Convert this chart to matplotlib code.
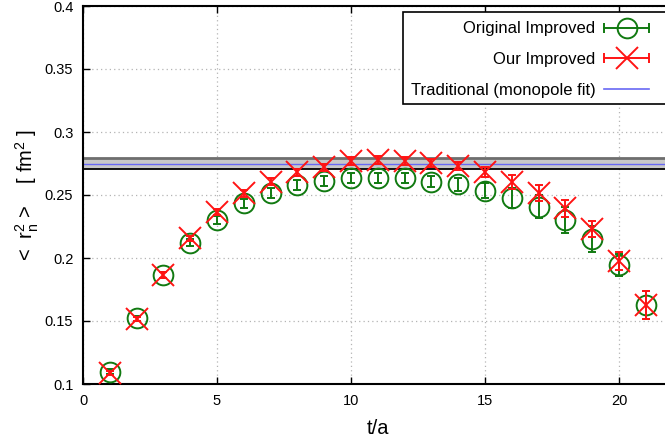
import matplotlib
matplotlib.use("Agg")
import matplotlib.pyplot as plt
from matplotlib.lines import Line2D
from matplotlib.patches import Rectangle
from matplotlib.legend_handler import HandlerBase

plt.rcParams['font.family'] = ['Liberation Sans', 'DejaVu Sans']
plt.rcParams['mathtext.fontset'] = 'custom'
plt.rcParams['mathtext.rm'] = 'Liberation Sans'
plt.rcParams['mathtext.it'] = 'Liberation Sans'
plt.rcParams['mathtext.default'] = 'regular'

# ---- data ----
t = [1, 2, 3, 4, 5, 6, 7, 8, 9, 10, 11, 12, 13, 14, 15, 16, 17, 18, 19, 20, 21]
orig_val = [0.1097, 0.1521, 0.1865, 0.2122, 0.2302, 0.2434, 0.2518, 0.2579, 0.2613, 0.2632,
            0.2637, 0.2632, 0.2606, 0.2585, 0.2534, 0.2474, 0.2407, 0.2302, 0.2151, 0.1944, 0.1627]
orig_err = [0.002, 0.002, 0.002, 0.003, 0.003, 0.0035, 0.004, 0.004, 0.004, 0.004,
            0.004, 0.004, 0.0045, 0.005, 0.006, 0.008, 0.009, 0.010, 0.010, 0.009, 0.0115]
ours_val = [0.1090, 0.1518, 0.1865, 0.2158, 0.2367, 0.2513, 0.2606, 0.2680, 0.2720, 0.2768,
            0.2778, 0.2770, 0.2756, 0.2730, 0.2685, 0.2606, 0.2518, 0.2394, 0.2228, 0.1978, 0.1627]
ours_err = [0.0015, 0.0015, 0.002, 0.002, 0.0025, 0.0025, 0.003, 0.003, 0.003, 0.003,
            0.003, 0.003, 0.003, 0.0035, 0.004, 0.0055, 0.0065, 0.0065, 0.0065, 0.007, 0.011]
trad_val = 0.2750
trad_err = 0.0043

xticks = [0, 5, 10, 15, 20]
yticks = [0.1, 0.15, 0.2, 0.25, 0.3, 0.35, 0.4]
yticklabels = ['0.1', '0.15', '0.2', '0.25', '0.3', '0.35', '0.4']
labels = ['Original Improved', 'Our Improved', 'Traditional (monopole fit)']

GREEN = '#117a11'
RED = '#ff1414'
BLUE = '#6868f4'

W, H = 665, 441
fig = plt.figure(figsize=(W / 100, H / 100), dpi=100)
ax_left, ax_right, ax_top, ax_bot = 83, 672.6, 6, 384
ax = fig.add_axes([ax_left / W, (H - ax_bot) / H, (ax_right - ax_left) / W, (ax_bot - ax_top) / H])
ax.set_xlim(0, 22)
ax.set_ylim(0.1, 0.4)

# band
ax.axhspan(trad_val - trad_err, trad_val + trad_err, color='#c8c8c8', zorder=1, lw=0)
ax.axhline(trad_val + trad_err, color='#6e6e6e', lw=2.0, zorder=2)
ax.axhline(trad_val - trad_err, color='black', lw=1.3, zorder=2)
ax.axhline(trad_val, color=BLUE, lw=1.0, zorder=2)

ax.errorbar(t, orig_val, yerr=orig_err, fmt='o', ms=14.2, mfc='none', mec=GREEN, mew=1.4,
            ecolor=GREEN, elinewidth=1.4, capsize=3.2, capthick=1.4, color=GREEN, zorder=3)
ax.errorbar(t, ours_val, yerr=ours_err, fmt='x', ms=15.5, mec=RED, mew=1.4,
            ecolor=RED, elinewidth=1.4, capsize=3.2, capthick=1.4, color=RED, zorder=4)

ax.set_xticks(xticks)
ax.set_yticks(yticks)
ax.set_yticklabels(yticklabels)
ax.grid(True, color='#b4b4b4', linestyle=(0, (1, 2.5)), linewidth=0.9)
ax.set_axisbelow(True)
ax.tick_params(direction='in', length=5, width=1.0, top=True, right=False, labelsize=10.5,
               colors='black')
ax.tick_params(axis='y', pad=7)
ax.tick_params(axis='x', pad=7)
for s in ax.spines.values():
    s.set_linewidth(1.5)

ax.set_xlabel('t/a', fontsize=14.5, labelpad=8)
ax.set_ylabel('<  r$_n^2$ >    [ fm$^2$ ]', fontsize=14.5, labelpad=3)


class CapHandler(HandlerBase):
    def create_artists(self, legend, orig_handle, xdescent, ydescent, width, height, fontsize, trans):
        color = orig_handle.get_color()
        marker = orig_handle.get_marker()
        y = height / 2 - ydescent
        x0, x1 = -xdescent, width - xdescent
        arts = []
        if marker in ('o', 'x'):
            arts.append(Line2D([x0, x1], [y, y], color=color, lw=1.4))
            arts.append(Line2D([x0, x1], [y, y], ls='none', marker='|', ms=7, mew=1.4, color=color))
            arts.append(Line2D([(x0 + x1) / 2], [y], ls='none', marker=marker,
                               ms=orig_handle.get_markersize(), mfc='none', mec=color, mew=1.4))
        else:
            arts.append(Line2D([x0, x1], [y, y], color=color, lw=1.2))
        for a in arts:
            a.set_transform(trans)
        return arts


h1 = Line2D([], [], color=GREEN, marker='o', ms=14.2)
h2 = Line2D([], [], color=RED, marker='x', ms=15.5)
h3 = Line2D([], [], color=BLUE, marker='None')
hm = {h1: CapHandler(), h2: CapHandler(), h3: CapHandler()}
leg = fig.legend([h1, h2, h3], labels,
                 handler_map=hm, loc='upper right', bbox_to_anchor=(657 / W, 1 - 13 / H),
                 frameon=False, markerfirst=False, alignment='right', borderpad=0,
                 fontsize=12, handlelength=2.65, handletextpad=0.55, labelspacing=0.95)
for txt in leg.get_texts():
    txt.set_ha('right')

fig.add_artist(Rectangle((403 / W, 1 - 104 / H), (720 - 403) / W, (104 - 12) / H,
                         transform=fig.transFigure, facecolor='white', edgecolor='black',
                         lw=1.2, zorder=5))
leg.set_zorder(6)

fig.savefig('out.png', dpi=100)
